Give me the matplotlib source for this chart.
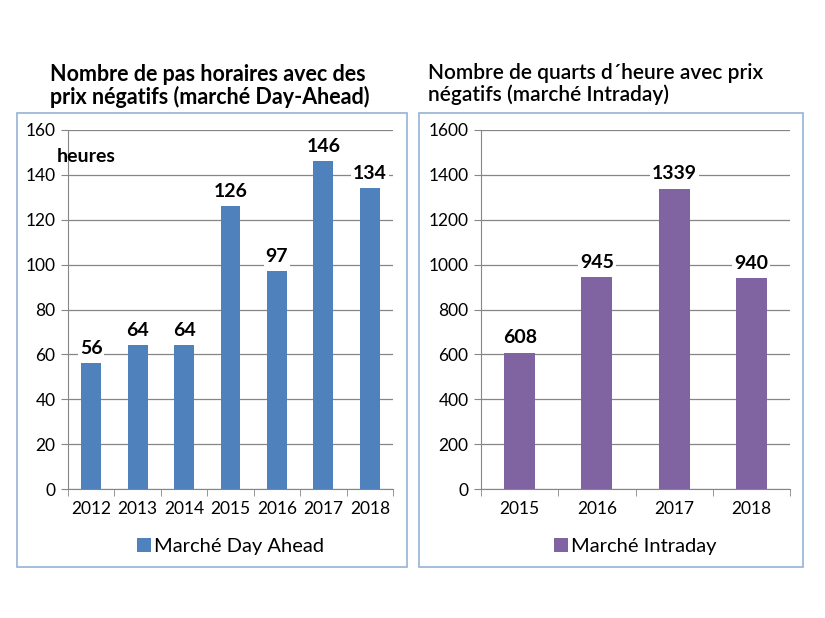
import matplotlib

matplotlib.use("Agg")
import matplotlib.pyplot as plt
from matplotlib.patches import Rectangle

plt.rcParams["font.family"] = ["Lato", "DejaVu Sans"]

# données
ANNEES_DA = ["2012", "2013", "2014", "2015", "2016", "2017", "2018"]
HEURES_DA = [56, 64, 64, 126, 97, 146, 134]
ANNEES_ID = ["2015", "2016", "2017", "2018"]
QUARTS_ID = [608, 945, 1339, 940]

BLEU = "#4F81BD"
VIOLET = "#8064A2"
CADRE = "#95B3D7"
W, H = 825, 618


def px(x0, y0, x1, y1):
    """rectangle en pixels (origine en haut à gauche) -> coords figure"""
    return [x0 / W, 1 - y1 / H, (x1 - x0) / W, (y1 - y0) / H]


def panneau(ax, cats, vals, color, width, ymax, step, label):
    x = range(len(cats))
    bars = ax.bar(x, vals, width, color=color, label=label, zorder=3)
    for rect, v in zip(bars, vals):
        ax.annotate(f"{v}", (rect.get_x() + rect.get_width() / 2, v), xytext=(0, 4.5),
                    textcoords="offset points", ha="center", va="bottom",
                    fontsize=14, fontweight="bold", zorder=5,
                    bbox=dict(boxstyle="square,pad=0.1", fc="white", ec="none"))
    ax.set_xlim(-0.5, len(cats) - 0.5)
    ax.set_ylim(0, ymax)
    ax.set_yticks(range(0, ymax + 1, step))
    ax.set_xticks(x)
    ax.set_xticklabels(cats, fontsize=12.5)
    ax.set_xticks([i - 0.5 for i in range(len(cats) + 1)], minor=True)
    ax.tick_params(axis="x", which="major", length=0, pad=9)
    ax.tick_params(axis="x", which="minor", length=5, color="#868686")
    ax.tick_params(axis="y", length=5, color="#868686", labelsize=12.5, pad=4)
    ax.grid(axis="y", color="#868686", linewidth=0.9, zorder=0)
    for s in ("top", "right"):
        ax.spines[s].set_visible(False)
    for s in ("left", "bottom"):
        ax.spines[s].set_color("#868686")
    ax.legend(loc="upper center", bbox_to_anchor=(0.5, -0.085), frameon=False,
              fontsize=14.5, handlelength=0.7, handleheight=0.7, handletextpad=0.15)


fig = plt.figure(figsize=(W / 100, H / 100), dpi=100)
fig.patch.set_facecolor("white")

# cadres
for x0, x1 in ((17, 407), (419, 803)):
    fig.patches.append(Rectangle((x0 / W, 1 - 567 / H), (x1 - x0) / W, (567 - 113) / H,
                                 transform=fig.transFigure, fill=False,
                                 edgecolor=CADRE, linewidth=1.2))

ax1 = fig.add_axes(px(68, 130, 393, 489))
panneau(ax1, ANNEES_DA, HEURES_DA, BLEU, 0.43, 160, 20, "Marché Day Ahead")
ax2 = fig.add_axes(px(481, 130, 790, 489))
panneau(ax2, ANNEES_ID, QUARTS_ID, VIOLET, 0.40, 1600, 200, "Marché Intraday")

fig.text(57 / W, 1 - 157 / H, "heures", fontsize=14, fontweight="bold", va="center")

fig.text(50 / W, 1 - 86 / H, "Nombre de pas horaires avec des\nprix négatifs (marché Day-Ahead)",
         fontsize=15.5, fontweight="bold", va="center", linespacing=1.1)
fig.text(428 / W, 1 - 84 / H, "Nombre de quarts d\u00b4heure avec prix\nnégatifs (marché Intraday)",
         fontsize=15, fontweight="semibold", va="center", linespacing=1.1)

fig.savefig("out.png", dpi=100, facecolor="white")
